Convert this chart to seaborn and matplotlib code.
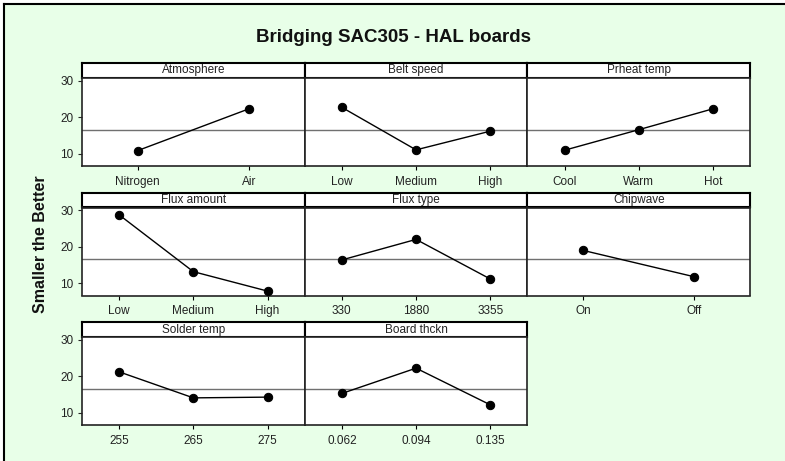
import matplotlib
matplotlib.use("Agg")
import matplotlib.pyplot as plt
import seaborn as sns
import pandas as pd

# --------------------------------------------------
# Data: main effects for bridging (smaller the better)
# --------------------------------------------------
factors = ["Atmosphere", "Belt speed", "Prheat temp",
           "Flux amount", "Flux type", "Chipwave",
           "Solder temp", "Board thckn"]

atmosphere_levels = ["Nitrogen", "Air"]
atmosphere_means = [10.9, 22.3]
belt_levels = ["Low", "Medium", "High"]
belt_means = [22.7, 11.1, 16.2]
preheat_levels = ["Cool", "Warm", "Hot"]
preheat_means = [11.0, 16.6, 22.3]
flux_amount_levels = ["Low", "Medium", "High"]
flux_amount_means = [28.7, 13.2, 7.9]
flux_type_levels = ["330", "1880", "3355"]
flux_type_means = [16.4, 22.0, 11.2]
chipwave_levels = ["On", "Off"]
chipwave_means = [19.0, 11.8]
solder_levels = ["255", "265", "275"]
solder_means = [21.2, 14.1, 14.3]
board_levels = ["0.062", "0.094", "0.135"]
board_means = [15.3, 22.2, 12.2]

grand_mean = 16.6
y_ticks = [10, 20, 30]

all_levels = [atmosphere_levels, belt_levels, preheat_levels,
              flux_amount_levels, flux_type_levels, chipwave_levels,
              solder_levels, board_levels]
all_means = [atmosphere_means, belt_means, preheat_means,
             flux_amount_means, flux_type_means, chipwave_means,
             solder_means, board_means]

# --------------------------------------------------
# Figure setup (pixel based layout)
# --------------------------------------------------
sns.set_theme(style="white")
plt.rcParams['font.family'] = ['Liberation Sans', 'DejaVu Sans']

W, H = 785, 461
bg = "#E8FFE8"
fig = plt.figure(figsize=(W / 100, H / 100), dpi=100, facecolor="white")

# green background panel with left / top frame
bg_ax = fig.add_axes([4 / W, 0, 1 - 4 / W, 1 - 4 / H])
bg_ax.set_facecolor(bg)
bg_ax.set_xticks([])
bg_ax.set_yticks([])
for s in ["right", "bottom"]:
    bg_ax.spines[s].set_visible(False)
for s in ["left", "top"]:
    bg_ax.spines[s].set_color("black")
    bg_ax.spines[s].set_linewidth(1.5)


def px_box(x0, y0, w, h):
    """pixel box (top-left origin) -> figure fraction rect"""
    return [x0 / W, (H - y0 - h) / H, w / W, h / H]


left0 = 82
col_w = 222.7
row_tops = [63, 192.5, 322]
strip_h = 15
plot_h = 88

fig.text(394 / W, 1 - 37 / H, "Bridging SAC305 - HAL boards",
         ha="center", va="center", fontsize=13.5, fontweight="bold",
         color="#111111")
fig.text(41 / W, 1 - 244 / H, "Smaller the Better", rotation=90,
         ha="center", va="center", fontsize=11.5, fontweight="bold",
         color="#111111")

for i, (name, levels, means) in enumerate(zip(factors, all_levels, all_means)):
    r, c = divmod(i, 3)
    x0 = left0 + c * col_w
    top = row_tops[r]

    # strip with the factor name
    sax = fig.add_axes(px_box(x0, top, col_w, strip_h))
    sax.set_facecolor("white")
    sax.set_xticks([])
    sax.set_yticks([])
    for s in sax.spines.values():
        s.set_color("black")
        s.set_linewidth(1.5)
    sax.text(0.5, 0.5, name, ha="center", va="center", fontsize=8.5,
             color="#222222", transform=sax.transAxes)

    # main effects panel
    ax = fig.add_axes(px_box(x0, top + strip_h, col_w, plot_h))
    ax.set_facecolor("white")
    df = pd.DataFrame({"level": levels, "mean": means})
    ax.axhline(grand_mean, color="#707070", lw=1.0, zorder=1)
    sns.pointplot(data=df, x="level", y="mean", order=levels, color="black",
                  markers="o", markersize=6, linewidth=1.0, ax=ax, zorder=3)
    ax.set_xlim(-0.5, len(levels) - 0.5)
    ax.set_ylim(6.7, 30.7)
    ax.set_xlabel("")
    ax.set_ylabel("")
    ax.set_yticks(y_ticks)
    ax.tick_params(axis="x", direction="out", length=3, width=0.8,
                   colors="black", labelsize=8.5, labelcolor="#222222", pad=4,
                   bottom=True)
    if c == 0:
        ax.tick_params(axis="y", direction="out", length=3, width=0.8,
                       labelsize=8.5, labelcolor="#222222", pad=3, left=True)
    else:
        ax.tick_params(axis="y", left=False, labelleft=False)
    for s in ax.spines.values():
        s.set_color("#222222")
        s.set_linewidth(1.2)

fig.savefig("out.png", dpi=100, facecolor="white")
